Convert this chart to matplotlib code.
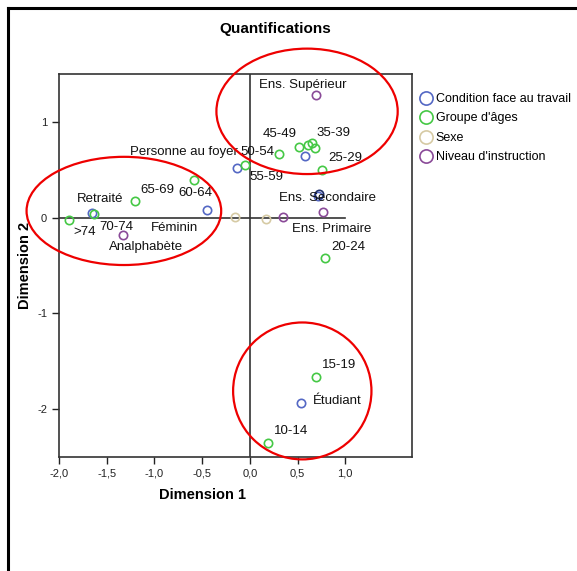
import matplotlib
matplotlib.use("Agg")
import matplotlib.pyplot as plt
from matplotlib.patches import Ellipse
from matplotlib.lines import Line2D
from matplotlib.ticker import FuncFormatter

plt.rcParams['font.family'] = ['Liberation Sans', 'DejaVu Sans']

# Category quantifications (Dimension 1, Dimension 2)
cond_x = [-1.65, -0.45, -0.13, 0.58, 0.71, 0.54]
cond_y = [0.05, 0.08, 0.52, 0.64, 0.23, -1.94]

age_x = [-1.90, -1.63, -1.20, -0.58, -0.05, 0.31, 0.52, 0.61, 0.65, 0.68, 0.76, 0.79, 0.69, 0.19]
age_y = [-0.02, 0.04, 0.17, 0.39, 0.55, 0.66, 0.74, 0.76, 0.78, 0.73, 0.50, -0.42, -1.66, -2.35]

sexe_x = [-0.15, 0.17]
sexe_y = [0.01, -0.01]

instr_x = [-1.33, 0.35, 0.77, 0.69]
instr_y = [-0.18, 0.01, 0.06, 1.28]

# Point labels as they appear on the chart (text, x, y)
labels = [
    ("Ens. Supérieur", 0.10, 1.39),
    ("45-49", 0.13, 0.87),
    ("35-39", 0.70, 0.88),
    ("25-29", 0.82, 0.62),
    ("Personne au foyer", -1.26, 0.69),
    ("50-54", -0.10, 0.69),
    ("55-59", 0.00, 0.42),
    ("65-69", -1.15, 0.29),
    ("60-64", -0.75, 0.26),
    ("Retraité", -1.81, 0.19),
    (">74", -1.85, -0.15),
    ("70-74", -1.58, -0.10),
    ("Féminin", -1.04, -0.11),
    ("Analphabète", -1.48, -0.31),
    ("Ens. Secondaire", 0.31, 0.20),
    ("Ens. Primaire", 0.44, -0.12),
    ("20-24", 0.85, -0.31),
    ("15-19", 0.76, -1.54),
    ("Étudiant", 0.66, -1.91),
    ("10-14", 0.25, -2.23),
]

# Highlight ellipses (center x, center y, width, height)
ellipses = [
    (0.60, 1.11, 1.90, 1.31),
    (-1.32, 0.07, 2.04, 1.13),
    (0.55, -1.81, 1.45, 1.43),
]

c_blue = "#5468c4"
c_green = "#45c845"
c_tan = "#d6caa4"
c_purple = "#8a4a98"

fig = plt.figure(figsize=(5.77, 5.71), dpi=100)
ax = fig.add_axes([59 / 577, 1 - 457 / 571, 353 / 577, 383 / 571])

# outer frame lines
fig.add_artist(Line2D([8 / 577, 1], [1 - 8 / 571, 1 - 8 / 571], color="black", lw=2.2,
                      transform=fig.transFigure))
fig.add_artist(Line2D([8 / 577, 8 / 577], [0, 1 - 8 / 571], color="black", lw=2.2,
                      transform=fig.transFigure))

ax.axhline(0, xmin=0, xmax=(1.0 + 2.0) / 3.7, color="#333333", lw=1.2, zorder=1)
ax.axvline(0, color="#333333", lw=1.2, zorder=1)

mk = dict(marker="o", linestyle="none", markersize=6, markerfacecolor="none",
          markeredgewidth=1.2, zorder=3)
ax.plot(cond_x, cond_y, color=c_blue, **mk)
ax.plot([cond_x[4] + 0.02], [cond_y[4] + 0.02], color="#20306a", **mk)
ax.plot(age_x, age_y, color=c_green, **mk)
ax.plot(sexe_x, sexe_y, color=c_tan, **mk)
ax.plot(instr_x, instr_y, color=c_purple, **mk)

for txt, lx, ly in labels:
    ax.text(lx, ly, txt, ha="left", va="center", fontsize=9.5, color="#111111", zorder=4)

for cx, cy, w, h in ellipses:
    ax.add_patch(Ellipse((cx, cy), w, h, fill=False, edgecolor="#ee0000", lw=1.6,
                         clip_on=False, zorder=5))

ax.set_xlim(-2.0, 1.7)
ax.set_ylim(-2.5, 1.5)
ax.set_xticks([-2.0, -1.5, -1.0, -0.5, 0.0, 0.5, 1.0])
ax.set_yticks([-2, -1, 0, 1])
ax.xaxis.set_major_formatter(FuncFormatter(lambda v, p: f"{v:.1f}".replace(".", ",")))
ax.yaxis.set_major_formatter(FuncFormatter(lambda v, p: f"{v:.0f}"))
ax.tick_params(direction="out", length=5, width=1, labelsize=8, colors="#222222")
for s in ax.spines.values():
    s.set_linewidth(1.2)
    s.set_color("#333333")

ax.set_xlabel("Dimension 1", fontsize=10.5, fontweight="bold")
ax.xaxis.set_label_coords(1.5 / 3.7, -0.08)
ax.set_ylabel("Dimension 2", fontsize=10.5, fontweight="bold")
ax.yaxis.set_label_coords(-0.077, 0.5)

fig.text(275 / 577, 1 - 29 / 571, "Quantifications", ha="center", va="center",
         fontsize=11, fontweight="bold")

handles = [
    Line2D([], [], color=c, **{**mk, "markersize": 9.5})
    for c in (c_blue, c_green, c_tan, c_purple)
]
ax.legend(handles, ["Condition face au travail", "Groupe d'âges", "Sexe", "Niveau d'instruction"],
          loc="upper left", bbox_to_anchor=(1.0, 0.97), frameon=False, fontsize=9,
          handlelength=1.0, handletextpad=0.3, labelspacing=0.6, borderaxespad=0.2)

fig.savefig("out.png", dpi=100)
